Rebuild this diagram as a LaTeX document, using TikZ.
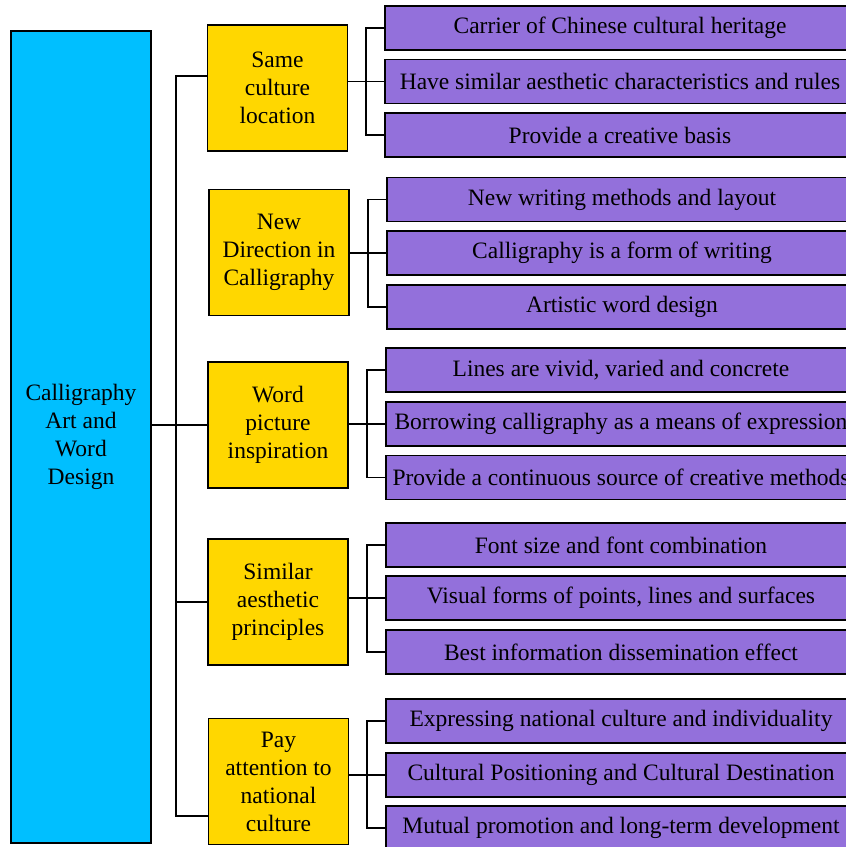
\documentclass[tikz,border=0pt]{standalone}
\usepackage{fontspec}
\setmainfont{Liberation Serif}
\definecolor{rootblue}{RGB}{0,191,255}
\definecolor{midgold}{RGB}{255,215,0}
\definecolor{leafpurple}{RGB}{147,112,219}
\begin{document}
\begin{tikzpicture}[x=1pt,y=-1pt,
  every node/.style={inner sep=0pt, outer sep=0pt, font=\fontsize{23.5}{28}\selectfont},
  rootbox/.style={draw=black, line width=1.5pt, fill=rootblue, minimum width=140pt, minimum height=812pt, align=center},
  midbox/.style={draw=black, line width=1.5pt, fill=midgold, minimum width=140pt, minimum height=126pt, align=center},
  leafbox/.style={draw=black, line width=1.5pt, fill=leafpurple, minimum width=470pt, minimum height=44pt},
  link/.style={draw=black, line width=1.5pt}]
\useasboundingbox (0,0) rectangle (846,847);
\clip (0,0) rectangle (846,847);
% root
\node[rootbox] (root) at (81,437) {Calligraphy\\Art and\\Word\\Design};
% middle
\node[midbox] (y1) at (277.5,88) {Same\\culture\\location};
\node[midbox] (y2) at (279,252.5) {New\\Direction in\\Calligraphy};
\node[midbox] (y3) at (278,425) {Word\\picture\\inspiration};
\node[midbox] (y4) at (278,602) {Similar\\aesthetic\\principles};
\node[midbox] (y5) at (278.5,781.5) {Pay\\attention to\\national\\culture};
% leaves
\node[leafbox] (p11) at (620,28) {Carrier of Chinese cultural heritage};
\node[leafbox] (p12) at (620,81.5) {Have similar aesthetic characteristics and rules};
\node[leafbox] (p13) at (620,135) {Provide a creative basis};
\node[leafbox] (p21) at (622,199.5) {New writing methods and layout};
\node[leafbox] (p22) at (622,253) {Calligraphy is a form of writing};
\node[leafbox] (p23) at (622,307) {Artistic word design};
\node[leafbox] (p31) at (621,370) {Lines are vivid, varied and concrete};
\node[leafbox] (p32) at (621,424) {Borrowing calligraphy as a means of expression};
\node[leafbox] (p33) at (621,477.5) {Provide a continuous source of creative methods};
\node[leafbox] (p41) at (621,545) {Font size and font combination};
\node[leafbox] (p42) at (621,598) {Visual forms of points, lines and surfaces};
\node[leafbox] (p43) at (621,652) {Best information dissemination effect};
\node[leafbox] (p51) at (621,721) {Expressing national culture and individuality};
\node[leafbox] (p52) at (621,775) {Cultural Positioning and Cultural Destination};
\node[leafbox] (p53) at (621,828) {Mutual promotion and long-term development};
% trunk
\coordinate (t1) at (176,76);
\coordinate (t5) at (176,816);
\draw[link] (y1.west |- t1) -- (t1) -- (t5) -- (y5.west |- t5);
\draw[link] (root.east |- y3.west) -- (y3.west);
\draw[link] (t1 |- y4.west) -- (y4.west);
% brackets
\foreach \g in {1,2,3,4,5}{
  \draw[link] (y\g.east |- p\g2.west) -- (p\g2.west);
  \draw[link] (p\g1.west) -- ++(-19,0) |- (p\g3.west);
}
\end{tikzpicture}
\end{document}
